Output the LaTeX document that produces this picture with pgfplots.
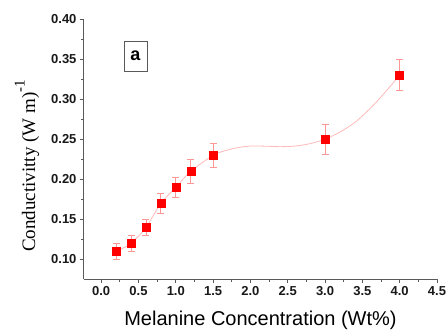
\documentclass[border=0pt]{standalone}
\usepackage{fontspec}
\setmainfont{Liberation Sans}
\newfontfamily\seriffont{Liberation Serif}
\usepackage{pgfplots}
\pgfplotsset{compat=1.18}
\definecolor{axgray}{RGB}{90,90,90}
\definecolor{mred}{RGB}{255,0,0}
\definecolor{ebar}{RGB}{255,150,150}
\definecolor{cline}{RGB}{255,185,185}
\begin{document}
\begin{tikzpicture}
\begin{axis}[
  width=353pt, height=260pt, scale only axis,
  xmin=-0.23, xmax=4.5, ymin=0.0756, ymax=0.40,
  axis x line*=bottom, axis y line*=left,
  axis line style={axgray, line width=1pt},
  tick align=outside,
  major tick length=4pt, minor tick length=2.5pt,
  tick style={axgray, line width=0.8pt},
  xtick={0,0.5,...,4.5}, ytick={0.10,0.15,...,0.40},
  minor x tick num=1, minor y tick num=1,
  /pgf/number format/assume math mode=true,
  ticklabel style={font=\fontsize{13}{13}\selectfont\bfseries, text=black!90},
  xticklabel style={/pgf/number format/.cd, fixed, fixed zerofill, precision=1},
  yticklabel style={/pgf/number format/.cd, fixed, fixed zerofill, precision=2},
  scaled ticks=false,
  xlabel={Melanine Concentration (Wt\%)},
  every axis x label/.style={font=\fontsize{20}{20}\selectfont, at={(axis description cs:0.5,-0.1577)}, anchor=center},
  ylabel={\seriffont Conductivitty (W m)\raisebox{0.55em}{\fontsize{15}{15}\selectfont -1}},
  every axis y label/.style={font=\fontsize{19}{19}\selectfont, at={(axis description cs:-0.1615,0.435)}, anchor=center, rotate=90},
  clip=false,
]
\coordinate (SW) at (rel axis cs:0,0);
\coordinate (NE) at (rel axis cs:1,1);
\addplot[cline, line width=0.8pt, smooth, tension=0.5] coordinates {
 (0.2,0.11) (0.4,0.12) (0.6,0.14) (0.8,0.17) (1.0,0.19) (1.2,0.21) (1.5,0.23)
 (1.6,0.234) (1.8,0.239) (2.0,0.2415) (2.2,0.2413) (2.4,0.2407) (2.6,0.2415)
 (2.8,0.2445) (3.0,0.25) (3.2,0.259) (3.4,0.271) (3.6,0.288) (3.8,0.308) (4.0,0.33)
};
\addplot[draw=none, mark=square*, mark size=4pt, mark options={fill=mred, draw=mred},
  error bars/.cd, y dir=both, y explicit,
  error bar style={ebar, line width=0.8pt},
  error mark options={ebar, line width=0.8pt, mark size=3.5pt, rotate=90}]
 table[x=x, y=y, y error=e] {
 x y e
 0.2 0.11 0.0094
 0.4 0.12 0.010
 0.6 0.14 0.0104
 0.8 0.17 0.012
 1.0 0.19 0.0125
 1.2 0.21 0.015
 1.5 0.23 0.015
 3.0 0.25 0.0185
 4.0 0.33 0.0197
};
\node[draw=axgray, fill=white, line width=0.6pt, minimum width=23pt, minimum height=30pt, inner sep=0pt,
  font=\fontsize{18}{18}\selectfont\bfseries] at (axis cs:0.46,0.354) {a};
\end{axis}
\pgfresetboundingbox
\path[use as bounding box] ([xshift=-84pt,yshift=-51pt]SW) rectangle ([xshift=9pt,yshift=19pt]NE);
\end{tikzpicture}
\end{document}
